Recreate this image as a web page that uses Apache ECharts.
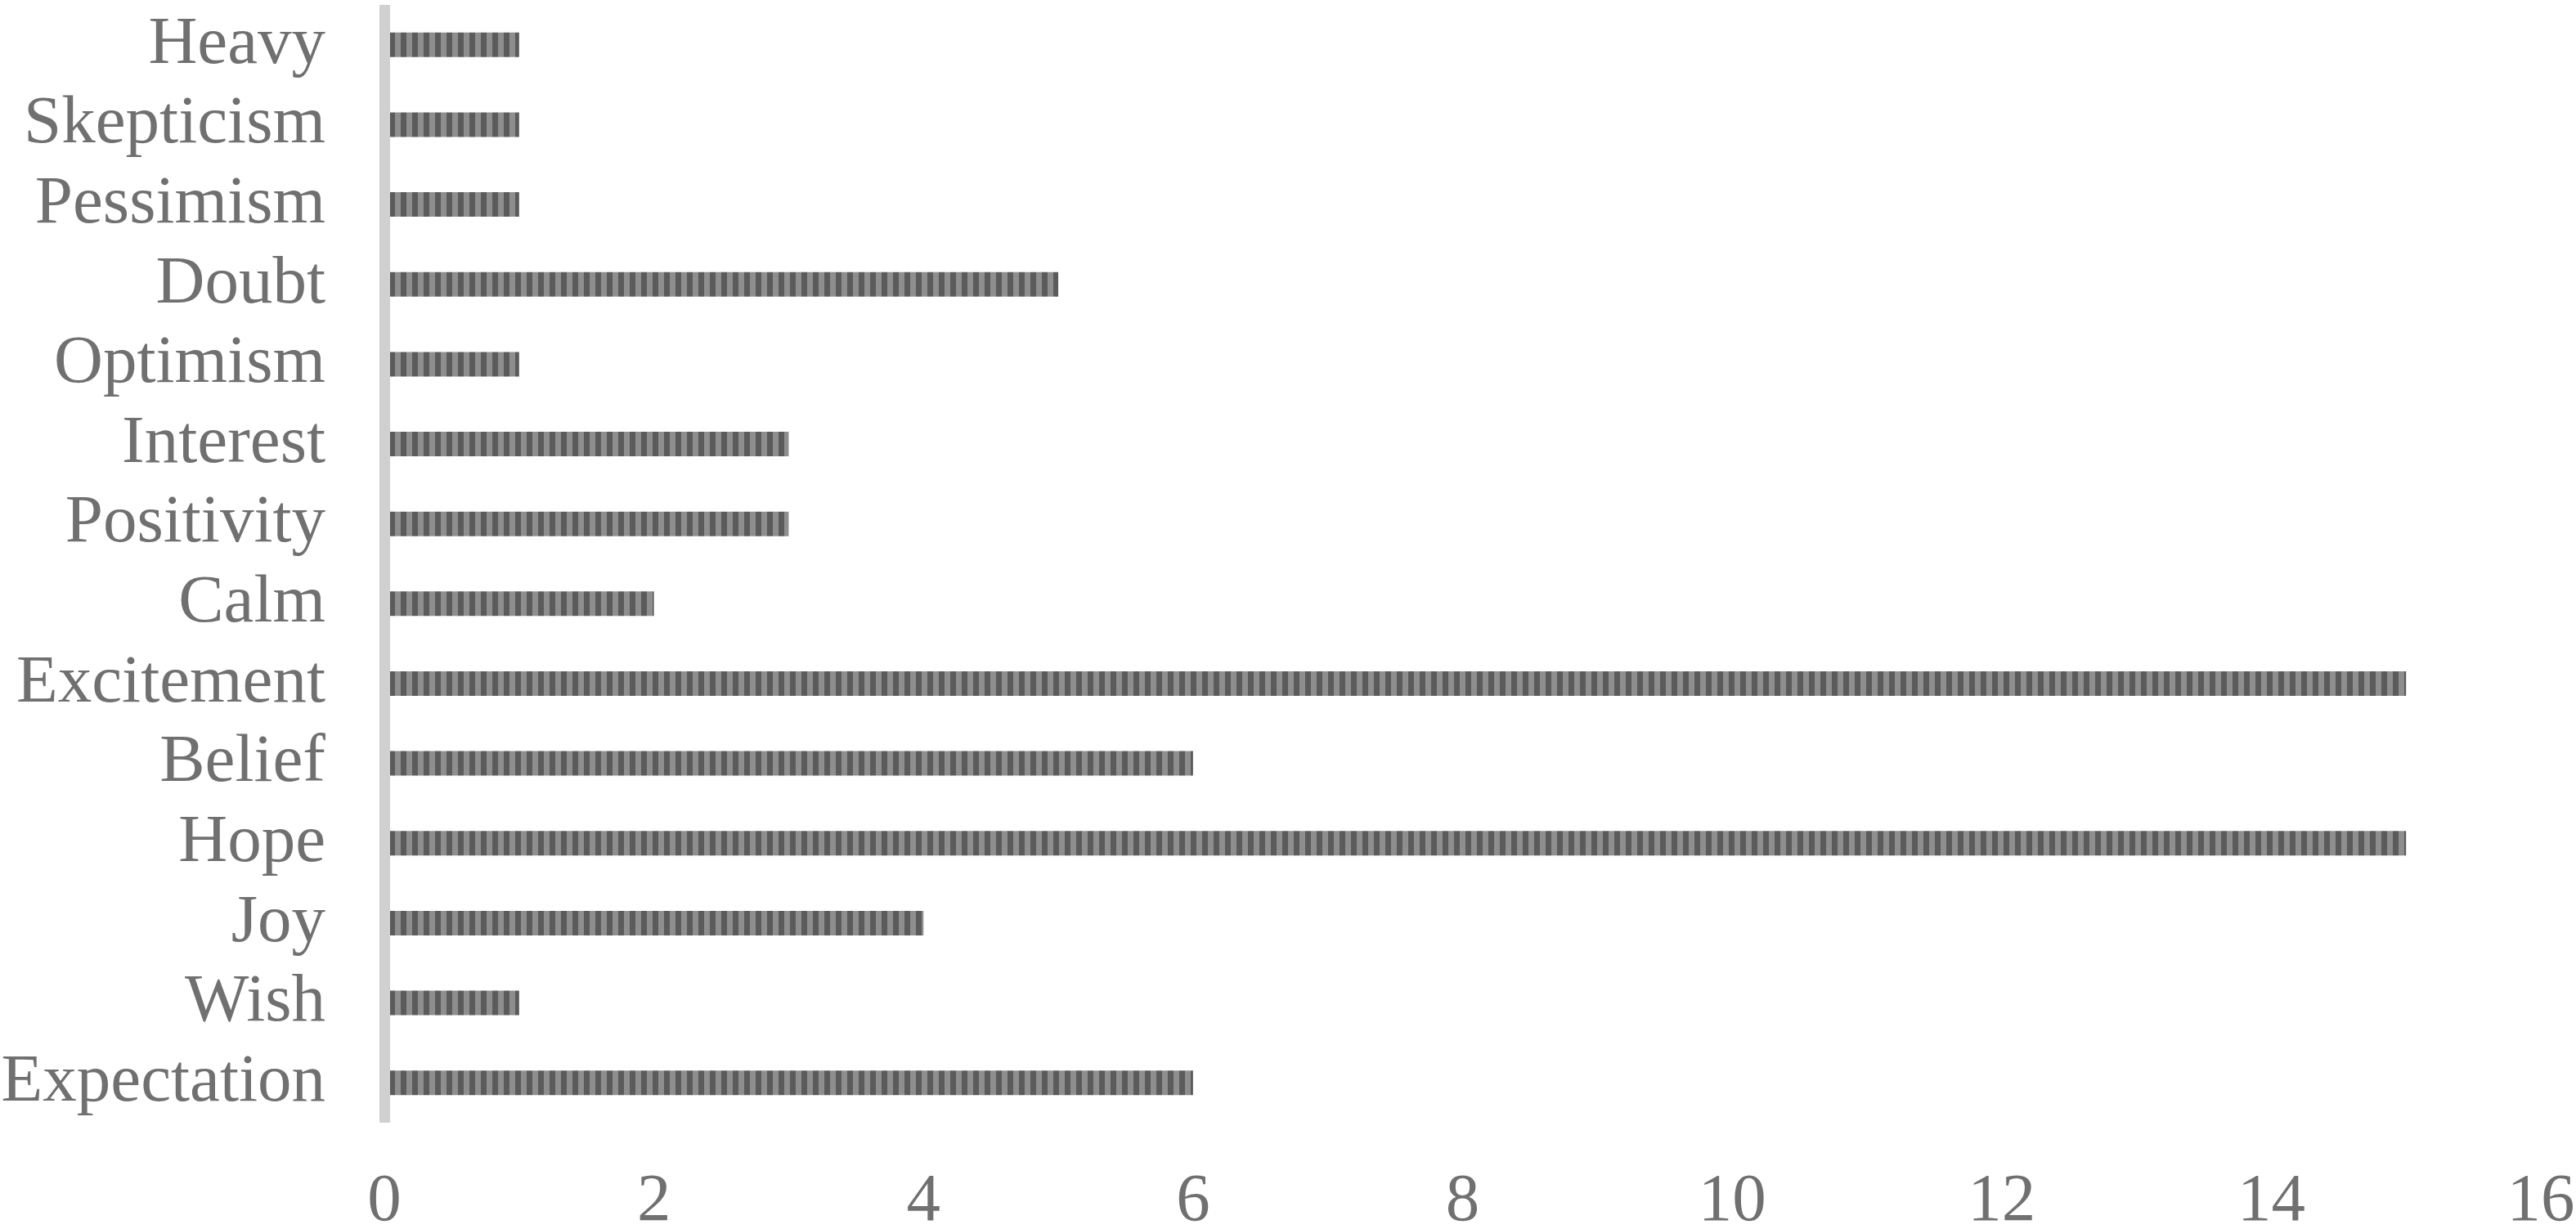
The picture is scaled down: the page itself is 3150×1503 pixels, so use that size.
<!DOCTYPE html>
<html><head><meta charset="utf-8">
<script src="https://cdn.jsdelivr.net/npm/echarts@6/dist/echarts.min.js"></script>
<style>html,body{margin:0;padding:0;background:#fff}#c{width:3150px;height:1503px}</style>
</head><body><div id="c"></div>
<script>
const categories = ["Expectation","Wish","Joy","Hope","Belief","Excitement","Calm","Positivity","Interest","Optimism","Doubt","Pessimism","Skepticism","Heavy"];
const counts = [6,1,4,15,6,15,2,3,3,1,5,1,1,1];
const xTicks = [0,2,4,6,8,10,12,14,16];

const pc = document.createElement('canvas');
pc.width = 14; pc.height = 4;
const ctx = pc.getContext('2d');
ctx.fillStyle = '#5b5b5b'; ctx.fillRect(0,0,7,4);
ctx.fillStyle = '#8e8e8e'; ctx.fillRect(7,0,7,4);

const chart = echarts.init(document.getElementById('c'), null, {renderer:'canvas'});
const font = '"Liberation Serif","Times New Roman",serif';
chart.setOption({
  animation:false,
  backgroundColor:'#ffffff',
  grid:{left:470,right:43,top:6,bottom:130,containLabel:false,outerBoundsMode:'none'},
  xAxis:{type:'value',min:xTicks[0],max:xTicks[xTicks.length-1],interval:2,
    axisLine:{show:false},axisTick:{show:false},splitLine:{show:false},
    axisLabel:{color:'#707070',fontFamily:font,fontSize:83,margin:56}},
  yAxis:{type:'category',data:categories,z:3,
    axisLine:{show:true,lineStyle:{color:'#d0d0d0',width:13,cap:'butt'}},
    axisTick:{show:false},
    axisLabel:{color:'#707070',fontFamily:font,fontSize:83,margin:72,interval:0}},
  series:[{type:'bar',data:counts,barWidth:30,
    itemStyle:{color:{image:pc,repeat:'repeat'}}}]
});
</script></body></html>
